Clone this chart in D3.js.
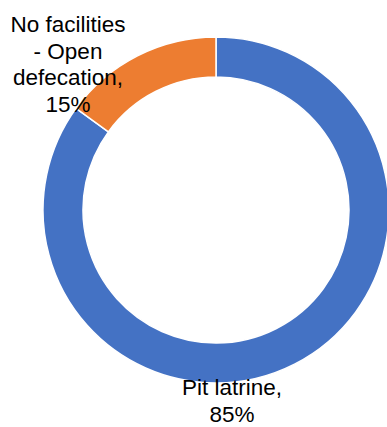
<!DOCTYPE html>
<html>
<head>
<meta charset="utf-8">
<script src="https://cdn.jsdelivr.net/npm/d3@7/dist/d3.min.js"></script>
<style>
  html, body { margin: 0; padding: 0; background: #fff; }
  svg { display: block; }
  text { font-family: "Liberation Sans", Arial, sans-serif; fill: #000; }
</style>
</head>
<body>
<svg id="chart" width="387" height="427"></svg>
<script>
// Sanitation facility shares (percent)
const categories = ["Pit latrine", "No facilities - Open defecation"];
const values = [85, 15];
const labelLines = [
  ["Pit latrine,", "85%"],
  ["No facilities", "- Open", "defecation,", "15%"]
];
const colors = ["#4472C4", "#ED7D31"];

const width = 387, height = 427;
const cx = 216, cy = 210;
const outerR = 173, innerR = 133;

const svg = d3.select("#chart");
const g = svg.append("g").attr("transform", `translate(${cx},${cy})`);

const pie = d3.pie().sort(null).value(d => d)(values);
const arc = d3.arc().innerRadius(innerR).outerRadius(outerR);

g.selectAll("path.slice")
  .data(pie)
  .join("path")
  .attr("class", "slice")
  .attr("d", arc)
  .attr("fill", (d, i) => colors[i])
  .attr("stroke", "#fff")
  .attr("stroke-width", 1.5)
  .attr("stroke-linejoin", "round");

// Data labels: offset from each slice's mid-angle, centered text blocks
const fontSize = 22.5, lineH = 26.7;
const labelPos = [
  { x: 232 - cx, y: 395 - cy },   // first baseline of "Pit latrine"
  { x: 68 - cx, y: 32 - cy }      // first baseline of "No facilities"
];

pie.forEach((d, i) => {
  const t = g.append("text")
    .attr("text-anchor", "middle")
    .attr("font-size", fontSize);
  labelLines[i].forEach((line, j) => {
    t.append("tspan")
      .attr("x", labelPos[i].x)
      .attr("y", labelPos[i].y + j * lineH)
      .text(line);
  });
});
</script>
</body>
</html>
